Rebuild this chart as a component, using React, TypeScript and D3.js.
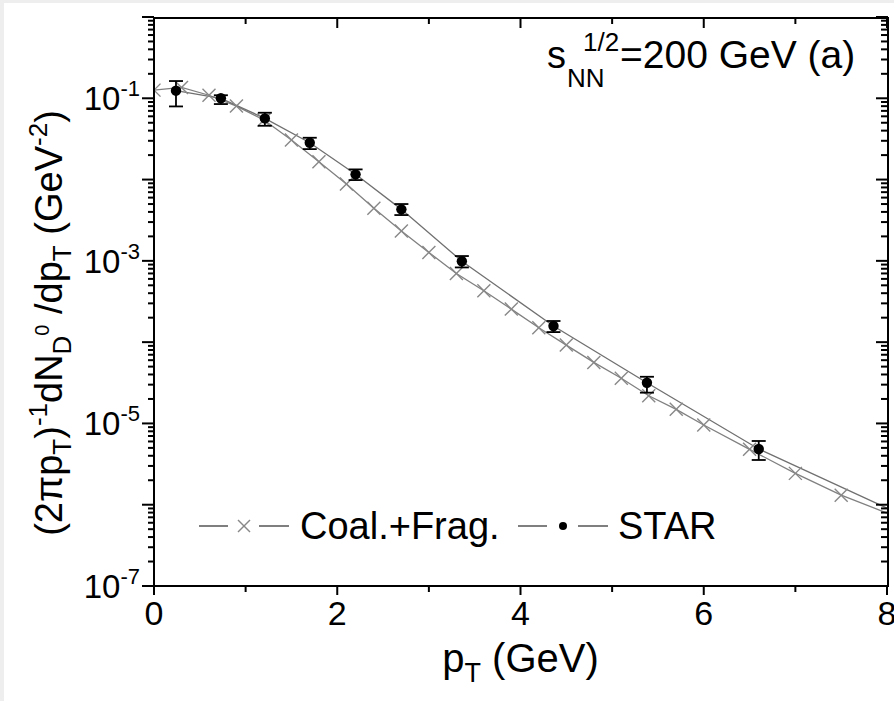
import React from 'react';
import * as d3 from 'd3';

const W = 894;
const H = 701;

// STAR data points (pT, value, lower, upper)
const starX = [0.24, 0.73, 1.21, 1.7, 2.2, 2.7, 3.36, 4.36, 5.38, 6.6];
const starVal = [0.124, 0.1, 0.0566, 0.0284, 0.0116, 0.0043, 0.00099, 1.58e-4, 3.17e-5, 4.84e-6];
const starLo = [0.0794, 0.0849, 0.0459, 0.0237, 0.00986, 0.00366, 8.3e-4, 1.33e-4, 2.39e-5, 3.55e-6];
const starHi = [0.163, 0.109, 0.0664, 0.0327, 0.01334, 0.005, 0.001146, 1.82e-4, 3.75e-5, 6.08e-6];
// STAR curve end point
const starEndX = [8];
const starEndY = [9.1e-7];

// Coal.+Frag. curve
const coalX = [0, 0.3, 0.6, 0.9, 1.2, 1.5, 1.8, 2.1, 2.4, 2.7, 3.0, 3.3, 3.6, 3.9, 4.2, 4.5, 4.8, 5.1, 5.4, 5.7, 6.0, 6.5, 7.0, 7.5, 8.0];
const coalY = [0.126, 0.136, 0.109, 0.0802, 0.054, 0.0306, 0.01656, 0.00881, 0.00443, 0.00233, 0.00127, 7.0e-4, 4.28e-4, 2.55e-4, 1.5e-4, 9.2e-5, 5.63e-5, 3.59e-5, 2.19e-5, 1.49e-5, 9.55e-6, 4.8e-6, 2.43e-6, 1.31e-6, 7.9e-7];

const xMajor = [0, 2, 4, 6, 8];
const xMinor = [1, 3, 5, 7];
const yDecadeExp = [0, -1, -2, -3, -4, -5, -6, -7];
const yLabelExp = [-1, -3, -5, -7];

const X0 = 154, X1 = 887, Y0 = 586, Y1 = 17;
const FONT = "'Liberation Sans', Arial, Helvetica, sans-serif";

export default function App() {
  const x = d3.scaleLinear().domain([0, 8]).range([X0, X1]);
  const y = d3.scaleLog().domain([1e-7, 1]).range([Y0, Y1]);

  const yMinor: number[] = [];
  yDecadeExp.slice(1).forEach((e) => {
    for (let k = 2; k <= 9; k++) yMinor.push(k * Math.pow(10, e));
  });

  const line = d3
    .line<[number, number]>()
    .x((d) => x(d[0]))
    .y((d) => y(d[1]));

  const coalPts: [number, number][] = coalX.map((v, i) => [v, coalY[i]]);
  const starLinePts: [number, number][] = [
    ...starX.map((v, i) => [v, starVal[i]] as [number, number]),
    ...starEndX.map((v, i) => [v, starEndY[i]] as [number, number]),
  ];

  const cs = 6.5;
  const ax = 2;

  return (
    <svg width={W} height={H} style={{ position: 'absolute', left: 0, top: 0 }} fontFamily={FONT}>
      <rect x={0} y={0} width={W} height={H} fill="#eeeeee" />
      <rect x={4} y={3} width={W - 4} height={H - 3} fill="#ffffff" />
      <defs>
        <clipPath id="plotclip">
          <rect x={X0} y={Y1} width={X1 - X0 + 1} height={Y0 - Y1} />
        </clipPath>
      </defs>

      <g clipPath="url(#plotclip)">
        <path d={line(coalPts) || ''} fill="none" stroke="#808080" strokeWidth={1.3} />
        <path d={line(starLinePts) || ''} fill="none" stroke="#707070" strokeWidth={1.3} />
        {coalPts
          .filter((d) => d[0] < 8)
          .map((d, i) => {
            const cx = x(d[0]);
            const cy = y(d[1]);
            return (
              <g key={'c' + i} stroke="#888888" strokeWidth={1.4}>
                <line x1={cx - cs} y1={cy - cs} x2={cx + cs} y2={cy + cs} />
                <line x1={cx - cs} y1={cy + cs} x2={cx + cs} y2={cy - cs} />
              </g>
            );
          })}
        {starX.map((v, i) => {
          const cx = x(v);
          const yl = y(starLo[i]);
          const yh = y(starHi[i]);
          return (
            <g key={'s' + i} stroke="#000" strokeWidth={1.8}>
              <line x1={cx} x2={cx} y1={yh} y2={yl} />
              <line x1={cx - 7} x2={cx + 7} y1={yh} y2={yh} />
              <line x1={cx - 7} x2={cx + 7} y1={yl} y2={yl} />
              <circle cx={cx} cy={y(starVal[i])} r={5.2} fill="#000" stroke="none" />
            </g>
          );
        })}
      </g>

      {/* axes frame */}
      <g stroke="#000" strokeWidth={ax} fill="none">
        <line x1={X0} x2={X0} y1={Y1} y2={Y0 + 1} />
        <line x1={X0 - 1} x2={X1 + 2} y1={Y0} y2={Y0} />
        <line x1={X0 - 1} x2={X1 + 2} y1={Y1 + 1} y2={Y1 + 1} />
        <line x1={X1 + 1} x2={X1 + 1} y1={Y1} y2={Y0 + 1} />
        {/* bottom ticks (out) */}
        {xMajor.map((v) => (
          <line key={'bM' + v} x1={x(v)} x2={x(v)} y1={Y0} y2={Y0 + 9} />
        ))}
        {xMinor.map((v) => (
          <line key={'bm' + v} x1={x(v)} x2={x(v)} y1={Y0} y2={Y0 + 6} />
        ))}
        {/* top ticks (in) */}
        {xMajor.map((v) => (
          <line key={'tM' + v} x1={x(v)} x2={x(v)} y1={Y1 + 1} y2={Y1 + 11} />
        ))}
        {xMinor.map((v) => (
          <line key={'tm' + v} x1={x(v)} x2={x(v)} y1={Y1 + 1} y2={Y1 + 7} />
        ))}
        {/* left ticks (out) */}
        {yDecadeExp.map((e) => (
          <line key={'lM' + e} x1={X0 - 12} x2={X0} y1={y(Math.pow(10, e))} y2={y(Math.pow(10, e))} />
        ))}
        {yMinor.map((v, i) => (
          <line key={'lm' + i} x1={X0 - 6} x2={X0} y1={y(v)} y2={y(v)} />
        ))}
        {/* right ticks (in) */}
        {yDecadeExp.map((e) => (
          <line key={'rM' + e} x1={X1 + 1} x2={X1 - 11} y1={y(Math.pow(10, e))} y2={y(Math.pow(10, e))} />
        ))}
        {yMinor.map((v, i) => (
          <line key={'rm' + i} x1={X1 + 1} x2={X1 - 6} y1={y(v)} y2={y(v)} />
        ))}
      </g>

      {/* x tick labels */}
      {xMajor.map((v) => (
        <text key={'xl' + v} x={x(v)} y={Y0 + 39} fontSize={34} textAnchor="middle" fill="#000">
          {v}
        </text>
      ))}
      {/* y tick labels */}
      {yLabelExp.map((e) => (
        <text key={'yl' + e} x={X0 - 14} y={y(Math.pow(10, e)) + 12} fontSize={33} textAnchor="end" fill="#000">
          10
          <tspan fontSize={22} dy={-14}>
            {String(e)}
          </tspan>
        </text>
      ))}

      {/* x axis title */}
      <text x={(X0 + X1) / 2} y={672} fontSize={40} textAnchor="middle" fill="#000">
        p<tspan fontSize={27} dy={10}>T</tspan>
        <tspan dy={-10}> (GeV)</tspan>
      </text>

      {/* y axis title */}
      <text transform="translate(62,323) rotate(-90)" fontSize={38} textAnchor="middle" fill="#000">
        (2πp<tspan fontSize={26} dy={9}>T</tspan>
        <tspan dy={-9}>)</tspan>
        <tspan fontSize={26} dy={-15}>-1</tspan>
        <tspan dy={15}>dN</tspan>
        <tspan fontSize={26} dy={9}>D</tspan>
        <tspan fontSize={20} dy={-22}>0</tspan>
        <tspan dy={13}> /dp</tspan>
        <tspan fontSize={26} dy={9}>T</tspan>
        <tspan dy={-9}> (GeV</tspan>
        <tspan fontSize={26} dy={-15}>-2</tspan>
        <tspan dy={15}>)</tspan>
      </text>

      {/* energy label */}
      <text x={547} y={68} fontSize={38} fill="#000">s</text>
      <text x={567} y={87} fontSize={26} fill="#000">NN</text>
      <text x={583} y={51} fontSize={26} fill="#000">1/2</text>
      <text x={620} y={68} fontSize={39} fill="#000">=200 GeV (a)</text>

      {/* legend */}
      <g stroke="#555" strokeWidth={1.5}>
        <line x1={199} x2={228} y1={526} y2={526} />
        <line x1={259} x2={289} y1={526} y2={526} />
        <line x1={518} x2={547} y1={526} y2={526} />
        <line x1={578} x2={608} y1={526} y2={526} />
      </g>
      <g stroke="#888" strokeWidth={1.4}>
        <line x1={244 - 6} y1={526 - 6} x2={244 + 6} y2={526 + 6} />
        <line x1={244 - 6} y1={526 + 6} x2={244 + 6} y2={526 - 6} />
      </g>
      <circle cx={563} cy={526} r={4} fill="#000" />
      <text x={300} y={539} fontSize={38} fill="#000">Coal.+Frag.</text>
      <text x={618} y={539} fontSize={38} fill="#000">STAR</text>
    </svg>
  );
}
